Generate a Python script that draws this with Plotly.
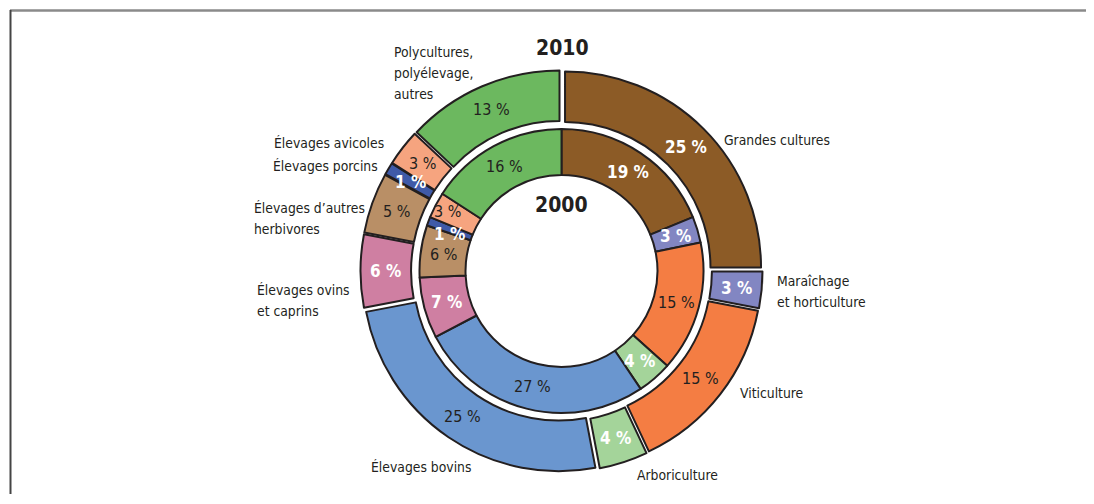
import math
import plotly.graph_objects as go

# ---------------- data ----------------
categories = [
    "Grandes cultures",
    "Maraîchage et horticulture",
    "Viticulture",
    "Arboriculture",
    "Élevages bovins",
    "Élevages ovins et caprins",
    "Élevages d'autres herbivores",
    "Élevages porcins",
    "Élevages avicoles",
    "Polycultures, polyélevage, autres",
]
share_2000 = [19, 3, 15, 4, 27, 7, 6, 1, 3, 16]
share_2010 = [25, 3, 15, 4, 25, 6, 5, 1, 3, 13]
year_inner = "2000"
year_outer = "2010"

# ---------------- styles ----------------
colors = ["#8c5b26", "#8286c2", "#f47d43", "#a4d49a", "#6a96cf",
          "#cf7fa2", "#b98f66", "#3f5aa8", "#f6a47f", "#6cb85f"]
white_bold = [True, True, False, True, False, True, False, True, False, False]
DARK = "#231f20"
FONT = "DejaVu Sans Condensed, sans-serif"

# page (browser) pixels; the body has an 8px margin
OFF = 8
FW, FH = 1086, 486
CX, CY = 561.5, 271.0
R_OUT, HOLE_OUT, PULL = 196.0, 0.742, 0.0255
R_IN, HOLE_IN = 142.0, 0.676
# small label nudges (px) for crowded thin slices of the inner ring
NUDGE_INNER = {7: (-1, 5), 8: (-9, -4)}


def px_x(x):
    return (x - OFF) / FW


def px_y(y):
    return 1 - (y - OFF) / FH


def dom(r_px):
    return dict(x=[px_x(CX - r_px), px_x(CX + r_px)],
                y=[px_y(CY + r_px), px_y(CY - r_px)])


fig = go.Figure()
line = dict(color=DARK, width=2)

fig.add_trace(go.Pie(
    labels=categories, values=share_2010, sort=False, direction="clockwise",
    rotation=0, hole=HOLE_OUT, pull=[PULL] * len(share_2010),
    marker=dict(colors=colors, line=line), textinfo="none",
    domain=dom(R_OUT * (1 + PULL)), showlegend=False, hoverinfo="label+value",
))
fig.add_trace(go.Pie(
    labels=categories, values=share_2000, sort=False, direction="clockwise",
    rotation=0, hole=HOLE_IN,
    marker=dict(colors=colors, line=line), textinfo="none",
    domain=dom(R_IN), showlegend=False, hoverinfo="label+value",
))

annotations = []


def pct_labels(values, r_in, r_out, shift, nudge):
    total = float(sum(values))
    cum = 0.0
    for i, (v, wb) in enumerate(zip(values, white_bold)):
        mid = (cum + v / 2) / total * 2 * math.pi
        cum += v
        r = (r_in + r_out) / 2 + shift
        dx, dy = nudge.get(i, (0, 0))
        x = CX + r * math.sin(mid) + dx
        y = CY - r * math.cos(mid) + dy
        txt = f"{v} %"
        annotations.append(dict(
            x=px_x(x), y=px_y(y), xref="paper", yref="paper",
            text=f"<b>{txt}</b>" if wb else txt, showarrow=False,
            font=dict(family=FONT, size=17 if wb else 16,
                      color="white" if wb else DARK),
            xanchor="center", yanchor="middle"))


pct_labels(share_2010, R_OUT * HOLE_OUT, R_OUT, R_OUT * PULL, {})
pct_labels(share_2000, R_IN * HOLE_IN, R_IN, 0, NUDGE_INNER)

# category labels: left x, y of first line, lines
label_pos = [
    (722, 140, ["Grandes cultures"]),
    (775, 281, ["Maraîchage", "et horticulture"]),
    (738, 393, ["Viticulture"]),
    (635, 475, ["Arboriculture"]),
    (369, 467, ["Élevages bovins"]),
    (255, 290, ["Élevages ovins", "et caprins"]),
    (252, 208, ["Élevages d’autres", "herbivores"]),
    (271, 166, ["Élevages porcins"]),
    (272, 143, ["Élevages avicoles"]),
    (392, 52, ["Polycultures,", "polyélevage,", "autres"]),
]
LINE_GAP = 21
for x, y, lines in label_pos:
    for i, t in enumerate(lines):
        annotations.append(dict(
            x=px_x(x), y=px_y(y + i * LINE_GAP), xref="paper", yref="paper",
            text=t, showarrow=False, align="left", xanchor="left",
            yanchor="middle", font=dict(family=FONT, size=13.8, color=DARK)))

annotations.append(dict(x=px_x(562), y=px_y(48), xref="paper", yref="paper",
                        text=f"<b>{year_outer}</b>", showarrow=False,
                        xanchor="center", yanchor="middle",
                        font=dict(family=FONT, size=21, color=DARK)))
annotations.append(dict(x=px_x(561), y=px_y(205), xref="paper", yref="paper",
                        text=f"<b>{year_inner}</b>", showarrow=False,
                        xanchor="center", yanchor="middle",
                        font=dict(family=FONT, size=21, color=DARK)))

shapes = [
    dict(type="line", xref="paper", yref="paper", x0=px_x(10), x1=1,
         y0=px_y(10.5), y1=px_y(10.5), line=dict(color="#8a8a8a", width=2.5)),
    dict(type="line", xref="paper", yref="paper", x0=px_x(10.5), x1=px_x(10.5),
         y0=0, y1=px_y(10), line=dict(color="#444444", width=2)),
]

fig.update_layout(
    width=FW, height=FH, margin=dict(l=0, r=0, t=0, b=0),
    paper_bgcolor="white", plot_bgcolor="white",
    annotations=annotations, shapes=shapes, showlegend=False,
)

fig.write_html("out.html", config={"displayModeBar": False})
